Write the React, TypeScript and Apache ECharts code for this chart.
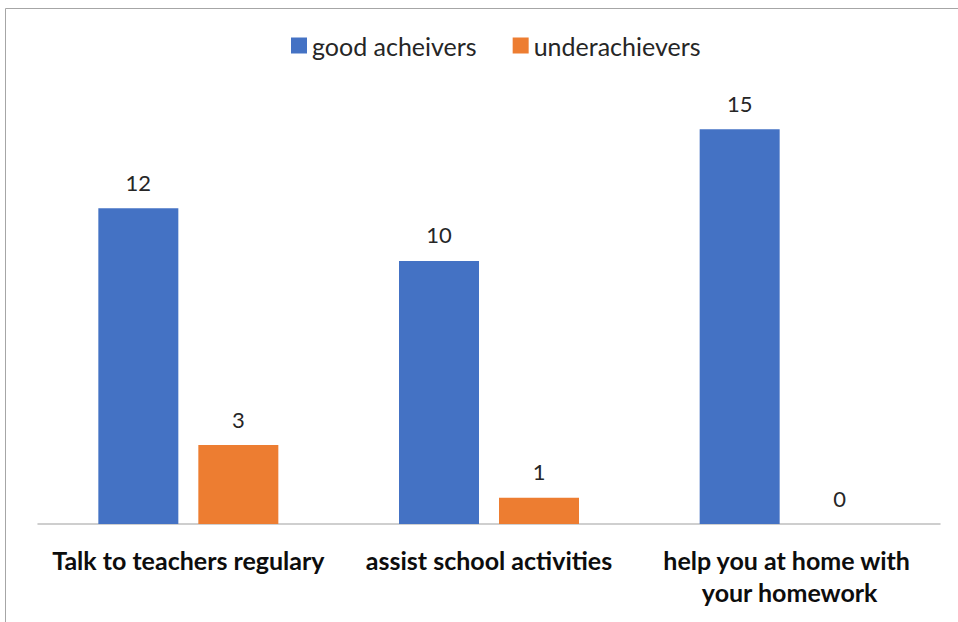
import React, { useEffect, useRef } from "react";
import * as echarts from "echarts";

const categories = [
  "Talk to teachers regulary",
  "assist school activities",
  "help you at home with your homework",
];
const goodAchievers = [12, 10, 15];
const underachievers = [3, 1, 0];
const seriesNames = ["good acheivers", "underachievers"];

export default function App() {
  const ref = useRef<HTMLDivElement>(null);
  useEffect(() => {
    document.body.style.margin = "0";
    const chart = echarts.init(ref.current!, null, { renderer: "svg" });
    const font = "Lato, 'Open Sans', sans-serif";
    const valueLabel = {
      show: true,
      position: "top",
      distance: 15,
      fontFamily: font,
      fontSize: 22,
      color: "#262626",
    };
    chart.setOption({
      animation: false,
      backgroundColor: "#ffffff",
      graphic: [
        {
          type: "rect",
          shape: { x: 5.5, y: 8.5, width: 1000, height: 700 },
          style: { fill: "none", stroke: "#a6a6a6", lineWidth: 1 },
          silent: true,
        },
      ],
      legend: {
        top: 28,
        left: 286,
        itemWidth: 16,
        itemHeight: 16,
        itemGap: 36,
        icon: "rect",
        textStyle: { fontFamily: font, fontSize: 25, color: "#262626" },
        data: seriesNames,
      },
      grid: { left: 38, right: 18, top: 103, bottom: 98, containLabel: false },
      xAxis: {
        type: "category",
        data: categories,
        axisLine: { show: true, lineStyle: { color: "#bfbfbf", width: 1.5 } },
        axisTick: { show: false },
        axisLabel: {
          interval: 0,
          fontFamily: font,
          fontSize: 25,
          fontWeight: "bold",
          color: "#0d0d0d",
          margin: 20,
          width: 290,
          overflow: "break",
          lineHeight: 32,
        },
      },
      yAxis: {
        type: "value",
        min: 0,
        max: 16,
        show: false,
        splitLine: { show: false },
      },
      series: [
        {
          name: seriesNames[0],
          type: "bar",
          data: goodAchievers,
          barWidth: 80,
          barGap: "25%",
          itemStyle: { color: "#4472c4" },
          label: valueLabel,
        },
        {
          name: seriesNames[1],
          type: "bar",
          data: underachievers,
          barWidth: 80,
          barGap: "25%",
          itemStyle: { color: "#ed7d31" },
          label: valueLabel,
        },
      ],
    });
    return () => chart.dispose();
  }, []);
  return <div ref={ref} style={{ width: 958, height: 622 }} />;
}
